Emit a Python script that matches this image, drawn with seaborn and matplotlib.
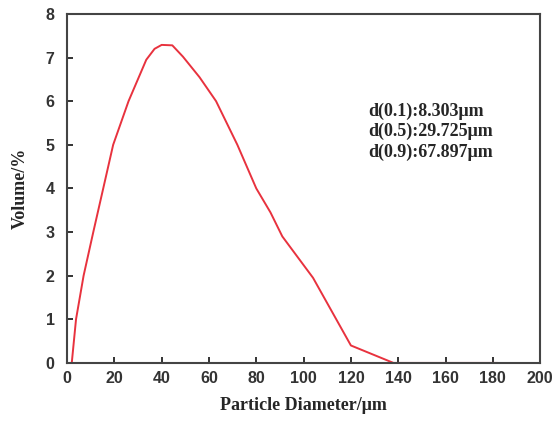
import numpy as np
import pandas as pd
import matplotlib
matplotlib.use("Agg")
import matplotlib.pyplot as plt
import seaborn as sns

# particle size distribution
diameter = [2, 3.8, 7, 11.1, 15.3, 19.5, 26, 33.5, 37, 40, 44.5, 49, 56, 63, 72, 80, 86, 91, 104, 120, 138, 160, 182]
volume = [0, 1.0, 2.0, 3.0, 4.0, 5.0, 6.0, 6.95, 7.2, 7.29, 7.28, 7.02, 6.55, 6.0, 5.0, 4.0, 3.45, 2.9, 1.95, 0.4, 0, 0, 0]
d_labels = ["d(0.1):8.303\u03bcm", "d(0.5):29.725\u03bcm", "d(0.9):67.897\u03bcm"]
x_ticks = [0, 20, 40, 60, 80, 100, 120, 140, 160, 180, 200]
y_ticks = [0, 1, 2, 3, 4, 5, 6, 7, 8]

df = pd.DataFrame({"diameter": diameter, "volume": volume})

sns.set_style("ticks")
plt.rcParams['font.family'] = ['Liberation Sans', 'DejaVu Sans']

fig = plt.figure(figsize=(5.54, 4.22), dpi=100)
ax = fig.add_axes([0.121, 0.140, 0.854, 0.827])

sns.lineplot(data=df, x="diameter", y="volume", ax=ax, color="#e8323e", linewidth=1.4)

ax.set_xlim(0, 200)
ax.set_ylim(0, 8)
ax.set_xticks(x_ticks)
ax.set_yticks(y_ticks)
ax.tick_params(direction="in", length=4, width=1.4, colors="#333333", labelsize=11.5)
ax.tick_params(axis="y", pad=9)
ax.tick_params(axis="x", pad=6)
for lab in ax.get_xticklabels() + ax.get_yticklabels():
    lab.set_fontweight("bold")
for sp in ax.spines.values():
    sp.set_linewidth(1.5)
    sp.set_color("#444444")

serif = ['Liberation Serif', 'DejaVu Serif']
ax.set_xlabel("Particle Diameter/\u03bcm", family=serif, fontweight="bold", fontsize=13, labelpad=8)
ax.set_ylabel("Volume/%", family=serif, fontweight="bold", fontsize=13, labelpad=12)

ax.text(0.636, 0.745, "\n".join(d_labels), transform=ax.transAxes, family=serif,
        fontweight="bold", fontsize=13, va="top", ha="left", linespacing=1.22)

fig.savefig("out.png", dpi=100)
